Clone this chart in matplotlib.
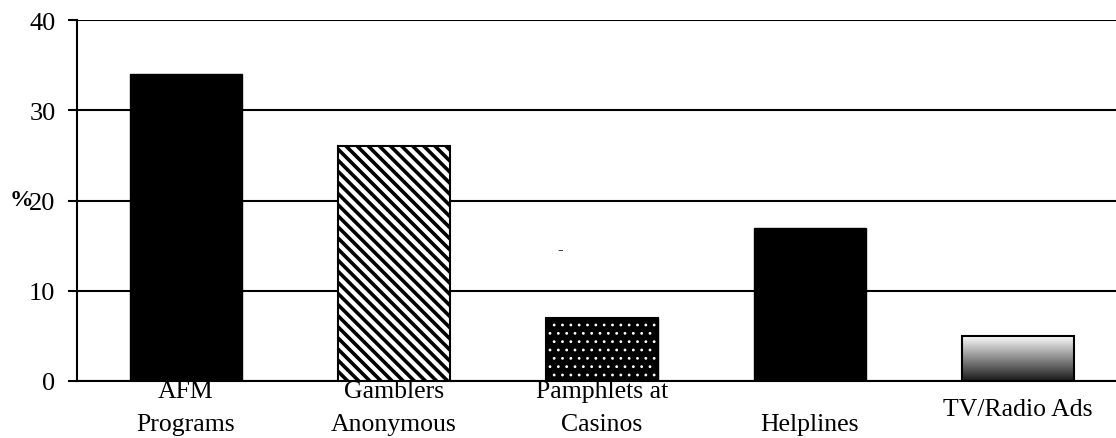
import numpy as np
import matplotlib
matplotlib.use("Agg")
import matplotlib.pyplot as plt

categories = ["AFM\nPrograms", "Gamblers\nAnonymous", "Pamphlets at\nCasinos", "\nHelplines", "TV/Radio Ads"]
values = [34, 26, 7, 17, 5]
yticks = [0, 10, 20, 30, 40]

plt.rcParams['font.family'] = ['Liberation Serif', 'DejaVu Serif']

W, H = 1116, 439
fig = plt.figure(figsize=(W / 100, H / 100), dpi=100)
ax = fig.add_axes([77 / W, (H - 382) / H, (W - 77) / W, 361 / H])

x = np.arange(len(categories))
bw = 0.54

# bar 0: solid black
ax.bar(x[0], values[0], width=bw, color='black', edgecolor='black', zorder=3)
# bar 1: diagonal hatch
plt.rcParams['hatch.linewidth'] = 2.6
ax.bar(x[1], values[1], width=bw, facecolor='white', edgecolor='black', hatch='\\\\\\', linewidth=1.5, zorder=3)
# bar 2: black with white dots
plt.rcParams['hatch.linewidth'] = 0.8
ax.bar(x[2], values[2], width=bw, facecolor='black', edgecolor='black', zorder=3)
ax.bar(x[2], values[2], width=bw * 0.96, facecolor='none', edgecolor='white', hatch='..', linewidth=0, zorder=4)
ax.bar(x[2], values[2], width=bw, facecolor='none', edgecolor='black', linewidth=1.5, zorder=5)
# bar 3: solid black
ax.bar(x[3], values[3], width=bw, color='black', edgecolor='black', zorder=3)
# bar 4: gradient
b4 = ax.bar(x[4], values[4], width=bw, facecolor='none', edgecolor='black', linewidth=1.5, zorder=5)
rect = b4.patches[0]
grad = np.linspace(0.1, 1.0, 256).reshape(-1, 1)
im = ax.imshow(grad, cmap='gray', vmin=0, vmax=1, aspect='auto', origin='lower',
               extent=(x[4] - bw / 2, x[4] + bw / 2, 0, values[4]), zorder=4)
im.set_clip_path(rect)

ax.set_xlim(-109 / 208, (W - 186) / 208)
ax.set_ylim(0, 40)
ax.set_yticks(yticks)
ax.set_yticklabels([str(t) for t in yticks], fontsize=19)
ax.tick_params(axis='y', direction='out', length=6.5, width=1.5, pad=9, colors='black')
ax.set_xticks([])
ax.yaxis.grid(True, color='black', linewidth=1.5, zorder=1)
ax.set_axisbelow(True)
for s in ['top', 'right']:
    ax.spines[s].set_visible(False)
for s in ['left', 'bottom']:
    ax.spines[s].set_linewidth(1.5)
    ax.spines[s].set_zorder(2)

# category labels
for i, lab in enumerate(categories):
    lines = lab.split("\n")
    if len(lines) == 1:
        ax.annotate(lines[0], xy=(x[i], 0), xycoords=('data', 'axes fraction'),
                    xytext=(0, -28 * 0.72), textcoords='offset points',
                    ha='center', va='center', fontsize=18.5)
    else:
        for j, ln in enumerate(lines):
            ax.annotate(ln, xy=(x[i], 0), xycoords=('data', 'axes fraction'),
                        xytext=(0, -(10 + 33 * j) * 0.72), textcoords='offset points',
                        ha='center', va='center', fontsize=18.5)

fig.text(21 / W, 1 - 201 / H, "%", fontsize=17, fontweight='bold', ha='center', va='center')
fig.text(560 / W, 1 - 250 / H, "-", fontsize=12, ha='center', va='center')

fig.savefig("out.png", dpi=100)
